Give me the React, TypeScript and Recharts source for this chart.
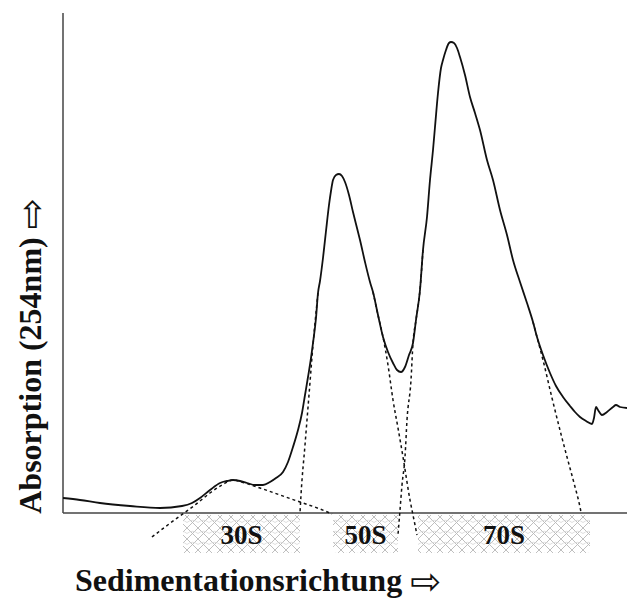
import { LineChart, Line, XAxis, YAxis, ReferenceLine, ReferenceArea } from 'recharts'

// sedimentation position (arbitrary units, 0 = top of gradient) vs. absorption (arbitrary units)
const profile: [number, number][] = [
  [0, 15], [17, 13], [37, 10], [67, 7], [97, 5], [119, 7], [129, 10], [137, 15],
  [147, 23], [157, 30], [164, 32], [170, 33], [177, 32], [184, 30], [192, 28], [200, 28],
  [207, 31], [213, 35], [220, 41], [225, 51], [230, 66], [235, 83], [239, 100], [242, 118],
  [245, 136], [248, 155], [250, 170], [253, 195], [255, 220], [257, 232], [260, 255], [263, 282],
  [266, 308], [268, 322], [270, 333], [273, 338], [276, 339], [279, 337], [282, 331], [286, 318],
  [290, 301], [294, 285], [297, 273], [302, 251], [307, 231], [310, 221], [315, 198], [320, 176],
  [325, 161], [330, 150], [334, 143], [338, 141], [342, 146], [346, 158], [350, 170], [353, 193],
  [357, 223], [360, 263], [364, 296], [367, 333], [370, 363], [372, 386], [375, 420], [378, 445],
  [380, 453], [383, 463], [386, 470], [388, 471], [391, 470], [394, 465], [397, 456], [402, 438],
  [407, 416], [412, 400], [417, 383], [424, 353], [430, 333], [437, 303], [444, 278], [450, 253],
  [457, 231], [464, 210], [470, 191], [474, 176], [480, 158], [487, 140], [493, 127], [500, 116],
  [507, 107], [512, 101], [517, 96], [523, 92], [529, 89], [531, 95], [533, 106], [535, 103],
  [539, 98], [544, 101], [550, 106], [553, 108], [557, 106], [564, 105],
]

const peak30S: [number, number][] = [
  [89, -24], [102, -14], [117, -3], [132, 8], [147, 20], [159, 28], [170, 33], [182, 30],
  [197, 25], [217, 18], [237, 11], [257, 4], [269, -1],
]

const peak50SLeft: [number, number][] = [
  [255, 220], [252, 190], [250, 168], [246, 118], [242, 68], [238, 18], [237, 0],
]

const peak50SRight: [number, number][] = [
  [310, 221], [315, 198], [320, 176], [325, 148], [330, 113], [335, 85], [340, 56], [347, 13],
  [351, -7], [354, -22],
]

const peak70SLeft: [number, number][] = [
  [360, 263], [357, 223], [353, 193], [350, 170], [348, 133], [344, 93], [342, 56], [339, 28],
  [337, 3], [335, -22],
]

const peak70SRight: [number, number][] = [
  [470, 191], [474, 176], [480, 153], [489, 115], [499, 75], [504, 56], [511, 30], [517, 6],
  [518, 1],
]

const fractions = [
  { name: '30S', from: 120, to: 237 },
  { name: '50S', from: 270, to: 335 },
  { name: '70S', from: 355, to: 527 },
]

const toPoints = (arr: [number, number][]) => arr.map(([x, y]) => ({ x, y }))

const serif = '"Liberation Serif", "Times New Roman", serif'
const ink = '#111'

const arrowStyle = {
  fontFamily: '"DejaVu Sans", sans-serif',
  fontWeight: 'normal' as const,
  fontSize: 37,
  lineHeight: '32px',
  verticalAlign: '-3px',
}

export default function App() {
  const dotted = [peak30S, peak50SLeft, peak50SRight, peak70SLeft, peak70SRight]

  return (
    <div style={{ position: 'absolute', left: 0, top: 0, width: 627, height: 598, background: '#fff' }}>
      <LineChart width={627} height={598} margin={{ top: 13, right: 0, bottom: 40, left: 63 }}>
        <defs>
          <pattern id="hatch" width="11" height="11" patternUnits="userSpaceOnUse">
            <path d="M0 0 L11 11 M11 0 L0 11" stroke="#b8b8b8" strokeWidth={0.9} fill="none" />
            <path d="M0 5.5 Q5.5 1 11 5.5" stroke="#d0d0d0" strokeWidth={0.7} fill="none" />
          </pattern>
        </defs>
        <XAxis type="number" dataKey="x" domain={[0, 564]} allowDataOverflow hide />
        <YAxis type="number" dataKey="y" domain={[-45, 500]} allowDataOverflow hide />

        {fractions.map((f) => (
          <ReferenceArea
            key={f.name}
            x1={f.from}
            x2={f.to}
            y1={-2}
            y2={-40}
            fill="url(#hatch)"
            fillOpacity={1}
            stroke="none"
            ifOverflow="visible"
            label={{
              value: f.name,
              position: 'center',
              fill: ink,
              fontSize: 27,
              fontWeight: 'bold',
              fontFamily: serif,
            }}
          />
        ))}

        <ReferenceLine y={0} stroke="#444" strokeWidth={1.5} />
        <ReferenceLine
          segment={[{ x: 0, y: 0 }, { x: 0, y: 500 }]}
          stroke="#444"
          strokeWidth={1.5}
          ifOverflow="visible"
        />

        {dotted.map((d, i) => (
          <Line
            key={i}
            data={toPoints(d)}
            dataKey="y"
            type="monotone"
            stroke={ink}
            strokeWidth={1.5}
            strokeDasharray="3 3"
            dot={false}
            isAnimationActive={false}
          />
        ))}

        <Line
          data={toPoints(profile)}
          dataKey="y"
          type="monotone"
          stroke={ink}
          strokeWidth={1.8}
          dot={false}
          isAnimationActive={false}
        />
      </LineChart>

      <div
        style={{
          position: 'absolute',
          left: 30.5,
          top: 356,
          transform: 'translate(-50%, -50%) rotate(-90deg)',
          whiteSpace: 'nowrap',
          fontFamily: serif,
          fontWeight: 'bold',
          fontSize: 32,
          lineHeight: '32px',
          color: ink,
        }}
      >
        Absorption (254nm) <span style={arrowStyle}>⇨</span>
      </div>

      <div
        style={{
          position: 'absolute',
          left: 75,
          top: 564,
          whiteSpace: 'nowrap',
          fontFamily: serif,
          fontWeight: 'bold',
          fontSize: 32,
          lineHeight: '32px',
          color: ink,
        }}
      >
        Sedimentationsrichtung <span style={arrowStyle}>⇨</span>
      </div>
    </div>
  )
}
